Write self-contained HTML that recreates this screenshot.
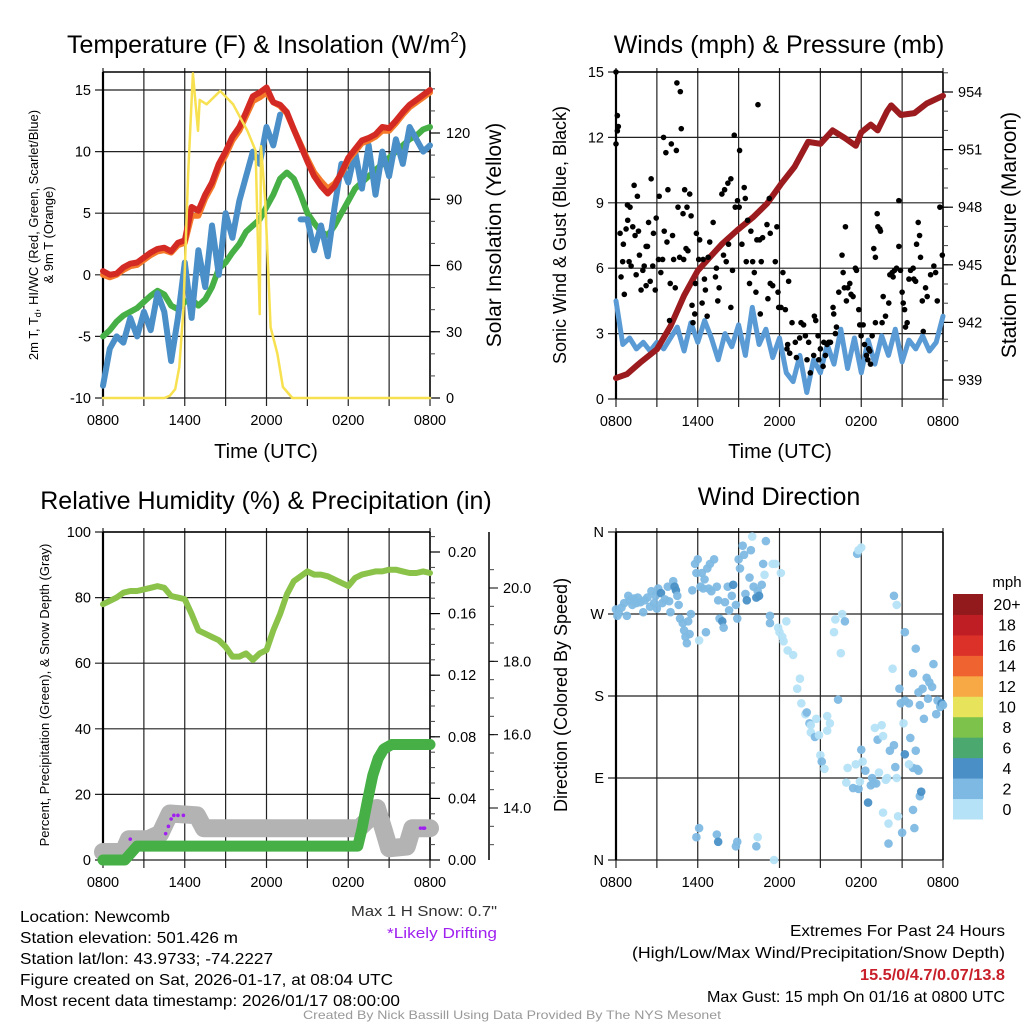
<!DOCTYPE html>
<html><head><meta charset="utf-8">
<style>
html,body{margin:0;padding:0;background:#fff;}
svg{display:block;font-family:"Liberation Sans",Arial,sans-serif;}
</style></head>
<body>
<svg id="chart" width="1024" height="1024" viewBox="0 0 1024 1024" xmlns="http://www.w3.org/2000/svg">
<rect x="0" y="0" width="1024" height="1024" fill="#fff"/>
<g id="layer"></g>
<text x="267" y="53" font-size="25" text-anchor="middle">Temperature (F) &amp; Insolation (W/m<tspan font-size="15" dy="-11">2</tspan><tspan dy="11">)</tspan></text>
<text x="779" y="53" font-size="25" text-anchor="middle">Winds (mph) &amp; Pressure (mb)</text>
<text x="266" y="509" font-size="25" text-anchor="middle">Relative Humidity (%) &amp; Precipitation (in)</text>
<text x="779" y="505" font-size="25" text-anchor="middle">Wind Direction</text>
<text transform="translate(38,235) rotate(-90)" font-size="13" text-anchor="middle">2m T, T<tspan font-size="9" dy="3">d</tspan><tspan dy="-3">, HI/WC (Red, Green, Scarlet/Blue)</tspan></text>
<text transform="translate(53,235) rotate(-90)" font-size="13" text-anchor="middle">&amp; 9m T (Orange)</text>
<text transform="translate(501,235) rotate(-90)" font-size="21" text-anchor="middle">Solar Insolation (Yellow)</text>
<text x="266" y="458" font-size="20" text-anchor="middle">Time (UTC)</text>
<text transform="translate(566,235) rotate(-90)" font-size="18" text-anchor="middle">Sonic Wind &amp; Gust (Blue, Black)</text>
<text transform="translate(1016,235) rotate(-90)" font-size="21" text-anchor="middle">Station Pressure (Maroon)</text>
<text x="780" y="458" font-size="20" text-anchor="middle">Time (UTC)</text>
<text transform="translate(49,695) rotate(-90)" font-size="13" text-anchor="middle">Percent, Precipitation (Green), &amp; Snow Depth (Gray)</text>
<text transform="translate(567,695) rotate(-90)" font-size="18" text-anchor="middle">Direction (Colored By Speed)</text>
<text x="497" y="916" font-size="15" text-anchor="end" fill="#333" textLength="146" lengthAdjust="spacingAndGlyphs">Max 1 H Snow: 0.7"</text>
<text x="497" y="938" font-size="15" text-anchor="end" fill="#a020f0" textLength="110" lengthAdjust="spacingAndGlyphs">*Likely Drifting</text>
<g font-size="16">
<text x="20" y="922" textLength="150" lengthAdjust="spacingAndGlyphs">Location: Newcomb</text>
<text x="20" y="943" textLength="218" lengthAdjust="spacingAndGlyphs">Station elevation: 501.426 m</text>
<text x="20" y="964" textLength="253" lengthAdjust="spacingAndGlyphs">Station lat/lon: 43.9733; -74.2227</text>
<text x="20" y="985" textLength="373" lengthAdjust="spacingAndGlyphs">Figure created on Sat, 2026-01-17, at 08:04 UTC</text>
<text x="20" y="1006" textLength="380" lengthAdjust="spacingAndGlyphs">Most recent data timestamp: 2026/01/17 08:00:00</text>
</g>
<g font-size="16" text-anchor="end">
<text x="1005" y="936" textLength="215" lengthAdjust="spacingAndGlyphs">Extremes For Past 24 Hours</text>
<text x="1005" y="958" textLength="373" lengthAdjust="spacingAndGlyphs">(High/Low/Max Wind/Precipitation/Snow Depth)</text>
<text x="1005" y="980" fill="#c8202a" font-weight="bold" textLength="145" lengthAdjust="spacingAndGlyphs">15.5/0/4.7/0.07/13.8</text>
<text x="1005" y="1002" textLength="298" lengthAdjust="spacingAndGlyphs">Max Gust: 15 mph On 01/16 at 0800 UTC</text>
</g>
<text x="303" y="1019" font-size="12" fill="#999" textLength="418" lengthAdjust="spacingAndGlyphs">Created By Nick Bassill Using Data Provided By The NYS Mesonet</text>
</svg>
<script>
// ---------- DATA ----------
const hoursHalf = [0,0.5,1,1.5,2,2.5,3,3.5,4,4.5,5,5.5,6,6.5,7,7.5,8,8.5,9,9.5,10,10.5,11,11.5,12,12.5,13,13.5,14,14.5,15,15.5,16,16.5,17,17.5,18,18.5,19,19.5,20,20.5,21,21.5,22,22.5,23,23.5,24];
const tempRed = [0.3,0.0,0.1,0.6,0.9,1.0,1.4,1.8,2.1,2.2,1.9,2.6,2.8,5.5,5.2,6.5,7.5,9.0,10.0,11.2,12.0,13.2,14.5,14.8,15.2,14.0,13.8,13.2,11.8,10.5,9.2,8.0,7.2,6.6,7.2,8.3,9.5,10.2,10.9,11.1,11.4,12.0,11.9,12.5,13.2,13.8,14.2,14.6,15.0];
const temp9mOrange = [0.0,-0.2,0.0,0.4,0.7,0.8,1.2,1.6,1.9,2.0,1.8,2.4,2.6,4.8,4.8,6.2,7.2,8.7,9.7,10.9,11.7,12.9,14.1,14.4,14.8,14.0,13.7,13.1,11.8,10.6,9.4,8.3,7.6,7.0,7.4,8.2,9.3,10.0,10.7,10.9,11.2,11.7,11.7,12.3,13.0,13.6,14.0,14.4,14.8];
const dewGreen = [-5,-4.5,-3.8,-3.3,-3.0,-2.7,-2.2,-1.7,-1.3,-1.6,-2.5,-2.8,-2.2,-2.0,-2.5,-2.0,-1.0,0.5,1.0,1.8,2.5,3.5,4.0,4.5,5.5,6.5,7.8,8.3,7.8,6.5,5.0,4.2,3.5,3.2,4.0,5.0,6.0,7.0,7.5,8.0,8.5,9.0,9.5,10.0,10.5,11.0,11.3,11.8,12.0];
const windChillBlue = [-9,-6,-5,-5.5,-3.5,-5,-3,-4.5,-1.5,-3,-7,-3.5,1.0,-3.5,2,-1,4,0,5,3,6,8,10,9,12,10.5,13,null,null,4.5,4.5,2,4,1.5,5.5,9,7.5,10,7,10.5,6.5,10,8,11,9,12,11,10,10.5];
const solarHours = [0,4.5,4.9,5.3,5.6,5.9,6.25,6.6,6.97,7.1,7.6,8.6,9.55,10.6,11.2,11.5,11.6,11.9,12.1,12.3,12.8,13.2,13.9,24];
const solarValues = [0,0,1,4,14,40,102,147,121,135,133,139,133,121,112,38,114,90,61,32,20,5,0,0];
const windSpeed = [4.5,2.5,2.8,2.3,2.6,2.2,2.6,2.3,2.8,3.3,2.2,3.5,2.6,3.6,2.8,1.8,3.0,2.4,3.4,2.0,4.2,2.5,3.2,1.9,2.8,1.2,0.8,2.0,0.3,1.8,1.2,2.5,1.6,3.2,1.4,2.8,1.2,2.7,1.6,2.9,2.0,3.2,1.7,2.7,2.3,2.9,2.2,2.6,3.8];
const pressureHours = [0,0.8,1.77,3,4,5,6,6.9,7.8,8.9,10.1,11.1,12.1,13.1,14.1,15.0,15.9,16.8,17.6,18.0,18.7,19.2,19.9,20.2,20.9,21.9,22.8,24];
const pressure = [939.1,939.3,939.9,940.6,941.8,943.4,944.7,945.4,946.1,946.8,947.5,948.2,949.2,950.1,951.4,951.3,952.0,951.6,951.2,951.9,952.3,952.0,953.0,953.3,952.8,952.9,953.4,953.8];
const gustHours = [0,0,0.1,0.17,0.1,0.3,0.37,0.49,0.54,0.61,0.74,0.86,0.84,0.96,1.03,1.11,1.23,1.33,1.48,1.4,1.57,1.72,1.65,1.84,1.97,2.07,2.21,2.21,2.39,2.31,2.51,2.58,2.7,2.75,2.88,2.95,3.12,3.17,3.29,3.42,3.49,3.54,3.66,3.74,3.81,3.93,3.98,4.06,4.15,4.23,4.35,4.43,4.47,4.55,4.72,4.79,4.67,4.92,4.97,5.04,5.14,5.21,5.28,5.41,5.51,5.58,5.65,5.78,5.83,5.9,6.07,6.14,6.32,6.49,6.39,6.56,6.69,6.76,6.88,7.13,7.3,7.37,7.47,7.57,7.77,7.89,7.97,8.09,8.21,8.26,8.43,8.43,8.55,8.68,8.75,8.92,9.04,9.07,9.24,9.41,9.49,9.56,9.66,9.8,9.9,10.03,10.15,10.27,10.34,10.42,10.54,10.59,10.66,10.76,11.08,11.15,11.25,11.32,11.32,11.5,11.69,11.81,11.89,11.94,12.11,12.25,12.43,12.67,12.55,12.92,12.6,12.75,13.16,13.24,13.48,13.58,13.77,13.9,14.02,14.14,14.26,14.51,14.56,14.66,14.83,14.88,15.0,15.2,15.25,15.37,15.49,15.61,15.74,15.93,15.98,16.1,16.18,16.35,16.59,16.67,16.84,16.76,16.91,17.01,17.16,17.25,17.4,17.57,17.65,17.82,17.89,17.99,18.14,18.24,18.38,18.48,18.55,18.63,18.68,18.8,19.04,18.92,19.04,19.17,19.22,19.36,19.41,19.53,19.78,19.61,20.02,20.1,20.27,20.34,20.44,20.76,20.59,20.76,20.88,21.0,21.08,21.18,21.25,21.37,21.5,21.62,21.81,21.86,21.99,22.06,22.18,22.28,22.35,22.48,22.55,22.72,22.84,23.09,23.33,23.77,23.95,23.46,23.58];
const gustValues = [15,11.7,12.3,12.5,13,7.6,5.6,6.3,7.1,4.8,7.8,8.2,8.9,6.3,8.8,6.1,7.9,9.8,5.7,7.5,9.3,6.6,7.7,5.0,5.9,6.1,7.0,5.2,8.1,7.0,5.4,10.1,6.1,7.6,5.0,8.3,6.4,9.3,5.8,6.4,12.0,7.7,11.3,7.2,9.6,3.6,5.3,11.7,7.5,6.4,5.1,11.4,14.5,8.8,14.1,12.4,6.5,8.5,6.4,9.6,6.9,8.8,6.8,9.4,8.4,4.3,3.5,3.9,5.3,7.6,6.4,7.3,4.4,5.5,6.4,5.0,3.8,6.5,7.2,8.1,5.6,6.0,4.5,5.1,9.4,6.6,9.6,6.3,9.9,7.1,10.1,4.2,5.9,12.1,8.8,9.1,8.8,11.4,7.1,9.7,9.2,6.3,8.2,5.3,7.7,6.3,5.8,4.9,7.3,13.5,7.3,3.9,6.3,7.4,8.0,4.6,9.2,5.3,7.6,5.2,6.3,7.9,4.9,4.2,4.2,5.8,4.1,5.4,2.3,3.5,2.5,2.1,2.6,1.9,2.8,3.5,3.4,2.9,1.8,2.6,1.2,2.0,3.8,3.6,2.9,1.8,2.3,1.5,2.6,2.0,2.5,2.6,2.6,4.2,3.9,3.0,3.3,4.9,6.6,5.8,7.9,5.1,4.5,5.1,5.3,4.8,4.7,6.0,5.9,4.1,3.4,2.9,3.4,2.5,2.0,1.8,2.3,2.2,1.6,2.9,3.5,6.9,6.5,8.5,7.9,7.8,7.7,3.5,3.8,4.7,4.4,5.7,5.8,5.6,5.9,9.1,6.0,7.0,5.9,4.9,4.4,4.1,3.3,3.5,5.5,5.9,6.0,5.5,5.4,7.1,8.1,7.5,6.5,4.5,3.1,5.1,4.7,5.7,6.1,8.8,6.6,5.8,4.5];
const rhHumidity = [78,79,80,81.5,82,82,82.5,83,83.5,83,80.5,80,79.5,75,70,69,68,67,65,62,62,63,61,63,64,70,75,81,85,86.5,88,87,87,86.5,85.5,84.5,83.5,86,87,87.5,88,88,88.5,88.5,88,87.5,87.5,88,87.5];
const precipHours = [0,1.6,2.5,18.7,19.0,19.4,19.8,20.2,20.6,21.2,24];
const precipInches = [0,0,0.009,0.009,0.02,0.038,0.055,0.066,0.072,0.075,0.075];
const snowHours = [0,0.8,1.5,1.9,3.3,4.2,4.9,6.9,7.4,18.8,19.5,20.1,20.6,21.0,22.3,22.7,24];
const snowDepth = [12.8,12.8,12.8,13.15,13.15,13.3,13.85,13.8,13.45,13.45,13.7,14.0,13.4,12.9,12.95,13.45,13.45];
const driftHours = [2.0,4.6,4.8,5.0,5.2,5.5,5.9,23.3,23.5,23.6];
const driftDepth = [13.15,13.3,13.5,13.7,13.8,13.8,13.8,13.45,13.45,13.45];
const dirHours = [0,0.1,0.2,0.4,0.6,0.8,0.9,1.0,1.2,1.3,1.5,1.6,1.8,2.0,2.1,2.3,2.5,2.6,2.8,2.9,3.0,3.1,3.3,3.4,3.6,3.8,3.9,4.0,4.2,4.3,4.4,4.5,4.6,4.7,4.9,5.0,5.1,5.2,5.3,5.4,5.5,5.6,5.8,5.9,6.0,6.1,6.2,6.3,6.4,6.5,6.6,6.7,6.8,6.9,7.0,7.2,7.4,7.5,7.6,7.8,7.9,8.0,8.2,8.3,8.5,8.6,8.8,8.9,9.0,9.1,9.3,9.4,9.5,9.6,9.8,9.9,10.0,10.1,10.3,10.4,10.5,10.7,10.8,10.9,11.0,11.3,11.3,11.5,11.7,11.9,12.0,12.1,12.2,12.3,12.5,12.6,13.0,13.3,13.5,13.6,13.9,14.0,14.2,14.3,14.3,14.6,14.7,14.9,15.0,15.1,15.3,15.5,15.5,15.7,16.0,16.1,16.3,16.5,16.6,16.8,16.9,17.0,17.4,17.6,17.8,17.9,18.0,18.1,18.3,18.5,18.7,18.8,18.9,19.0,19.1,19.2,19.3,17.7,17.8,18.0,19.5,19.6,20.0,20.1,20.4,20.5,20.6,21.0,21.2,5.9,6.1,7.4,7.5,8.8,8.9,10.3,10.4,11.6,20.3,20.4,20.6,21.2,21.8,22.0,22.2,22.3,22.5,22.6,22.8,22.9,23.0,23.2,23.3,23.5,23.6,23.8,23.9,24,21.5,21.6,21.8,22.0,22.1,22.2,21.1,21.5,19.8,19.9,19.6,20.0,20.7,22.3,22.4,21.9,21.8,20.9,21.2,20.8];
const dirDegrees = [275,268,271,277,282,268,290,285,280,287,282,288,283,272,285,288,278,295,282,290,276,298,293,282,286,300,284,272,306,300,296,290,280,265,260,252,245,238,262,248,270,296,325,315,330,241,300,315,298,308,250,320,298,325,295,330,300,285,265,262,255,283,300,274,290,302,280,265,330,320,345,335,292,285,310,340,355,300,288,295,290,302,325,313,350,268,260,325,325,255,250,315,245,240,262,230,225,188,199,172,160,162,150,148,140,135,155,137,115,108,100,158,142,150,250,264,176,227,270,262,85,101,79,105,78,86,121,108,98,63,82,90,84,145,84,132,96,336,340,343,148,136,18,120,126,102,90,30,116,25,35,28,20,15,20,15,25,0,210,290,280,250,205,232,184,170,188,155,200,177,195,190,215,160,175,168,172,170,172,134,101,120,100,98,150,105,88,90,52,40,48,70,75,35,55,172,175,188];
const dirSpeeds = [2.5,2.5,2.5,2.5,2.5,2.5,2.5,2.5,2.5,2.5,2.5,2.5,2.5,2.5,2.5,2.5,2.5,2.5,2.5,2.5,2.5,2.5,4.5,2.5,2.5,2.5,2.5,2.5,2.5,4.5,4.5,2.5,2.5,2.5,2.5,2.5,2.5,2.5,2.5,2.5,2.5,2.5,2.5,2.5,2.5,1,2.5,2.5,2.5,2.5,2.5,2.5,2.5,2.5,2.5,2.5,2.5,2.5,2.5,4.5,2.5,2.5,2.5,2.5,2.5,4.5,2.5,2.5,2.5,2.5,2.5,2.5,2.5,4.5,2.5,2.5,1,2.5,4.5,2.5,4.5,2.5,2.5,1,2.5,2.5,2.5,1,1,1,1,1,1,1,1,1,1,1,1,1,1,2.5,2.5,1,1,2.5,1,1,1,2.5,1,1,1,1,1,1,2.5,1,1,2.5,1,1,2.5,1,2.5,1,2.5,1,2.5,4.5,2.5,2.5,2.5,1,2.5,2.5,1,2.5,1,1,1,1,2.5,2.5,2.5,2.5,1,2.5,4.5,2.5,2.5,2.5,4.5,2.5,2.5,2.5,1,1,1,2.5,1,2.5,2.5,2.5,2.5,2.5,2.5,2.5,2.5,2.5,2.5,2.5,2.5,2.5,2.5,2.5,4.5,2.5,2.5,2.5,2.5,2.5,2.5,2.5,1,1,1,1,1,1,1,2.5,4.5,2.5,2.5,2.5,2.5,2.5];
const timeTickLabels = ["0800","1400","2000","0200","0800"];
const tempTicks = [15,10,5,0,-5,-10];
const solarTicks = [0,30,60,90,120];
const windTicks = [0,3,6,9,12,15];
const pressureTicks = [939,942,945,948,951,954];
const rhTicks = [0,20,40,60,80,100];
const precipTicks = [0.00,0.04,0.08,0.12,0.16,0.20];
const snowTicks = [14.0,16.0,18.0,20.0];
const dirTicks = [0,90,180,270,360];
const dirTickLabels = ["N","E","S","W","N"];
const speedBinLabels = ["0","2","4","6","8","10","12","14","16","18","20+"];
const speedBinColors = ["#b5e2f7","#7eb9e3","#4a90c6","#4ba86e","#7dc24b","#e7e35a","#f6a945","#ee6330","#dc3129","#bf1e24","#921a1c"];

// ---------- helpers ----------
const NS = "http://www.w3.org/2000/svg";
const layer = document.getElementById("layer");
function mk(tag, attrs, parent) {
  const e = document.createElementNS(NS, tag);
  for (const k in attrs) e.setAttribute(k, attrs[k]);
  (parent || layer).appendChild(e);
  return e;
}
function xScale(x0, x1) { return h => x0 + h * (x1 - x0) / 24; }
function yScale(v0, p0, v1, p1) { return v => p0 + (v - v0) * (p1 - p0) / (v1 - v0); }
function pathFrom(xs, ys, fx, fy) {
  let d = "", pen = false;
  for (let i = 0; i < xs.length; i++) {
    if (ys[i] === null || ys[i] === undefined) { pen = false; continue; }
    d += (pen ? "L" : "M") + fx(xs[i]).toFixed(1) + "," + fy(ys[i]).toFixed(1);
    pen = true;
  }
  return d;
}
function frame(x0, x1, yTop, yBot, fy, ticks, labels, name) {
  const g = mk("g", {});
  
  
  for (let i = 0; i <= 8; i++) {
    const x = x0 + i * (x1 - x0) / 8;
    const ln = mk("line", {x1: x, x2: x, y1: yTop - 4, y2: yBot + 8, stroke: "#222", "stroke-width": 1.2}, g);
    
    
  }
  ticks.forEach((t, i) => {
    const y = fy(t);
    const ln = mk("line", {x1: x0 - 8, x2: x1, y1: y, y2: y, stroke: "#222", "stroke-width": 1.2}, g);
    
    
    const tx = mk("text", {x: x0 - 12, y: y + 5, "font-size": 14.5, "text-anchor": "end"}, g);
    tx.textContent = labels[i];
    
    
  });
  mk("line", {x1: x0, x2: x0, y1: yTop, y2: yBot, stroke: "#000", "stroke-width": 2.2}, g);
  mk("line", {x1: x0, x2: x1, y1: yTop, y2: yTop, stroke: "#000", "stroke-width": 1.5}, g);
  mk("line", {x1: x1, x2: x1, y1: yTop, y2: yBot, stroke: "#000", "stroke-width": 1.5}, g);
  timeTickLabels.forEach((lab, i) => {
    const tx = mk("text", {x: x0 + i * (x1 - x0) / 4, y: yBot + 27, "font-size": 14.5, "text-anchor": "middle"}, g);
    tx.textContent = lab;
    
    
  });
}
function rightAxis(x, fy, ticks, labels, minorStep, vmin, vmax, name, labelX) {
  const g = mk("g", {});
  
  
  for (let v = vmin; v <= vmax + 1e-9; v += minorStep) {
    mk("line", {x1: x, x2: x + 5, y1: fy(v), y2: fy(v), stroke: "#444", "stroke-width": 1}, g);
  }
  ticks.forEach((t, i) => {
    const y = fy(t);
    mk("line", {x1: x, x2: x + 10, y1: y, y2: y, stroke: "#000", "stroke-width": 1.2}, g);
    const tx = mk("text", {x: labelX, y: y + 5, "font-size": 14.5}, g);
    tx.textContent = labels[i];
    
    
  });
}
function line(xs, ys, fx, fy, color, w, name) {
  const p = mk("path", {d: pathFrom(xs, ys, fx, fy), fill: "none", stroke: color, "stroke-width": w, "stroke-linejoin": "round", "stroke-linecap": "round"});
  
  
  return p;
}

// ---------- Panel 1 ----------
const tx1 = xScale(103, 430);
const ty1 = yScale(15, 90, -10, 398);
const sy1 = yScale(0, 398, 120, 133);
frame(103, 430, 72, 398, ty1, tempTicks, tempTicks.map(String), "temperature");
rightAxis(430, sy1, solarTicks, solarTicks.map(String), 10, 0, 140, "insolation-axis", 446);
line(hoursHalf, dewGreen, tx1, ty1, "#46b046", 6, "dewpoint-line");
line(hoursHalf, windChillBlue, tx1, ty1, "#4a8fc8", 6, "wind-chill-line");
line(hoursHalf, temp9mOrange, tx1, ty1, "#f47a2a", 6, "temp-9m-line");
line(hoursHalf, tempRed, tx1, ty1, "#d42a24", 6, "temp-2m-line");
line(solarHours, solarValues, tx1, sy1, "#f8e150", 2.5, "solar-insolation-line");

// ---------- Panel 2 ----------
const tx2 = xScale(616, 943);
const ty2 = yScale(0, 399, 15, 72);
const py2 = yScale(939, 380, 954, 92);
frame(616, 943, 72, 399, ty2, windTicks, windTicks.map(String), "winds");
rightAxis(943, py2, pressureTicks, pressureTicks.map(String), 1, 938, 955, "pressure-axis", 958);
line(hoursHalf, windSpeed, tx2, ty2, "#5a9bd5", 5, "sonic-wind-line");
line(pressureHours, pressure, tx2, py2, "#9b1b1e", 6, "pressure-line");
gustHours.forEach((h, i) => {
  const c = mk("circle", {cx: tx2(h), cy: ty2(gustValues[i]), r: 2.8, fill: "#000"});
  
  
});

// ---------- Panel 3 ----------
const tx3 = xScale(103, 430);
const ty3 = yScale(0, 860, 100, 532);
const pr3 = yScale(0, 860, 0.20, 552);
const sn3 = yScale(14, 808, 20, 588);
frame(103, 430, 532, 860, ty3, rhTicks, rhTicks.map(String), "humidity");
rightAxis(430, pr3, precipTicks, precipTicks.map(v => v.toFixed(2)), 0.01, 0, 0.21, "precip-axis", 448);
(function(){
  const g = mk("g", {});
  
  
  mk("line", {x1: 489, x2: 489, y1: 532, y2: 860, stroke: "#000", "stroke-width": 1.5}, g);
  for (let v = 12.5; v <= 20.9; v += 0.5) {
    if (sn3(v) < 532 || sn3(v) > 860) continue;
    mk("line", {x1: 489, x2: 494, y1: sn3(v), y2: sn3(v), stroke: "#444"}, g);
  }
  snowTicks.forEach(t => {
    mk("line", {x1: 489, x2: 498, y1: sn3(t), y2: sn3(t), stroke: "#000"}, g);
    const tx = mk("text", {x: 503, y: sn3(t) + 5, "font-size": 14.5}, g);
    tx.textContent = t.toFixed(1);
    
    
  });
})();
line(snowHours, snowDepth, tx3, sn3, "#b3b3b3", 18, "snow-depth-line");
driftHours.forEach((h, i) => {
  const c = mk("circle", {cx: tx3(h), cy: sn3(driftDepth[i]), r: 1.8, fill: "#a020f0"});
  
  
});
line(precipHours, precipInches, tx3, pr3, "#46b046", 11, "precipitation-line");
line(hoursHalf, rhHumidity, tx3, ty3, "#8bc34a", 6, "relative-humidity-line");

// ---------- Panel 4 ----------
const tx4 = xScale(616, 943);
const ty4 = yScale(0, 860, 360, 532);
frame(616, 943, 532, 860, ty4, dirTicks, dirTickLabels, "direction");
function speedColor(s) { return speedBinColors[Math.min(10, Math.floor(s / 2))]; }
dirHours.forEach((h, i) => {
  const c = mk("circle", {cx: tx4(h), cy: ty4(dirDegrees[i]), r: 4.3, fill: speedColor(dirSpeeds[i]), "fill-opacity": 0.95});
  
  
});
(function(){
  const g = mk("g", {});
  
  
  const top = 594, bot = 819, h = (bot - top) / 11;
  speedBinColors.forEach((col, i) => {
    const r = mk("rect", {x: 953, y: bot - (i + 1) * h, width: 30, height: h + 0.5, fill: col}, g);
    
    
    const t = mk("text", {x: 1007, y: bot - (i + 0.5) * h + 6, "font-size": 16, "text-anchor": "middle"}, g);
    t.textContent = speedBinLabels[i];
    
    
  });
  const u = mk("text", {x: 1007, y: 587, "font-size": 15, "text-anchor": "middle"}, g);
  u.textContent = "mph";
  
  
})();
</script>
</body></html>
